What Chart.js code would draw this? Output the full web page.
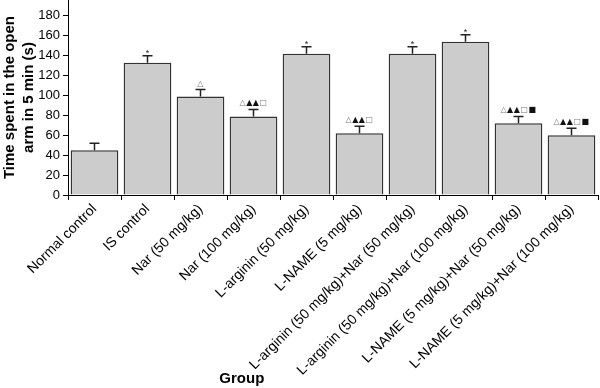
<!DOCTYPE html>
<html>
<head>
<meta charset="utf-8">
<script src="https://cdn.jsdelivr.net/npm/chart.js@4/dist/chart.umd.min.js"></script>
<style>
html,body{margin:0;padding:0;background:#fff;}
canvas{display:block;}
</style>
</head>
<body>
<canvas id="c" width="600" height="388"></canvas>
<script>
const categories = [
  "Normal control",
  "IS control",
  "Nar (50 mg/kg)",
  "Nar (100 mg/kg)",
  "L-arginin (50 mg/kg)",
  "L-NAME (5 mg/kg)",
  "L-arginin (50 mg/kg)+Nar (50 mg/kg)",
  "L-arginin (50 mg/kg)+Nar (100 mg/kg)",
  "L-NAME (5 mg/kg)+Nar (50 mg/kg)",
  "L-NAME (5 mg/kg)+Nar (100 mg/kg)"
];
const means = [45, 133, 99, 79, 142, 62, 142, 154, 72, 60];
const errors = [7, 7, 7, 7, 7, 7, 7, 7, 7, 7];
const marks = ["", "*", "△", "△▲▲□", "*", "△▲▲□", "*", "*", "△▲▲□■", "△▲▲□■"];
const yTickStep = 20;
const yMax = 196;

const overlay = {
  id: 'overlay',
  afterDatasetsDraw(chart) {
    const ctx = chart.ctx;
    const meta = chart.getDatasetMeta(0);
    const ys = chart.scales.y;
    ctx.save();
    meta.data.forEach((bar, i) => {
      const x = bar.x;
      const yb = ys.getPixelForValue(means[i]);
      const yt = ys.getPixelForValue(means[i] + errors[i]);
      ctx.strokeStyle = '#222';
      ctx.lineWidth = 1.5;
      ctx.beginPath();
      ctx.moveTo(x, yb);
      ctx.lineTo(x, yt);
      ctx.moveTo(x - 5, yt);
      ctx.lineTo(x + 5, yt);
      ctx.stroke();
      const m = marks[i];
      if (!m) return;
      if (m === '*') {
        ctx.font = '9px "Liberation Sans", Arial, sans-serif';
        ctx.fillStyle = '#222';
        ctx.textAlign = 'center';
        ctx.textBaseline = 'alphabetic';
        ctx.fillText('*', x, yt);
      } else {
        ctx.font = '8px "DejaVu Sans", sans-serif';
        ctx.textBaseline = 'alphabetic';
        ctx.textAlign = 'left';
        const chars = Array.from(m);
        const w = chars.map(c => ctx.measureText(c).width + 0.5);
        const total = w.reduce((a, b) => a + b, 0);
        let cx = x - total / 2;
        chars.forEach((c, k) => {
          ctx.fillStyle = (c === '△' || c === '□') ? '#777' : '#111';
          ctx.fillText(c, cx, yt - 4);
          cx += w[k];
        });
      }
    });
    const ca = chart.chartArea;
    ctx.font = 'bold 15px "Liberation Sans", Arial, sans-serif';
    ctx.fillStyle = '#000';
    ctx.textAlign = 'center';
    ctx.textBaseline = 'bottom';
    ctx.fillText('Group', ca.left + (ca.right - ca.left) * 0.328, chart.height - 2);
    ctx.restore();
  }
};

new Chart(document.getElementById('c'), {
  type: 'bar',
  data: {
    labels: categories,
    datasets: [{
      data: means,
      backgroundColor: '#cccccc',
      borderColor: '#333333',
      borderWidth: 1.5,
      borderSkipped: 'bottom',
      barPercentage: 0.9,
      categoryPercentage: 1.0
    }]
  },
  options: {
    responsive: false,
    animation: false,
    devicePixelRatio: 1,
    layout: { padding: { top: 0, right: 2, left: 0, bottom: 0 } },
    plugins: { legend: { display: false }, tooltip: { enabled: false } },
    scales: {
      x: {
        afterFit(scale) { scale.paddingLeft = 0; scale.height -= 1; },
        grid: { display: true, drawOnChartArea: false, drawTicks: true, tickLength: 5, color: '#000', offset: true },
        border: { display: true, color: '#000', width: 1 },
        ticks: {
          color: '#000',
          font: { family: '"Liberation Sans", Arial, sans-serif', size: 14 },
          maxRotation: 45, minRotation: 45, autoSkip: false, padding: 1
        },
        title: {
          display: true, text: 'Group', color: 'rgba(0,0,0,0)',
          font: { family: '"Liberation Sans", Arial, sans-serif', size: 15, weight: 'bold' },
          padding: { top: 0, bottom: 0 }
        }
      },
      y: {
        min: 0, max: yMax,
        afterBuildTicks(axis) {
          axis.ticks = axis.ticks.filter(t => t.value % yTickStep === 0);
        },
        afterFit(scale) { scale.paddingTop = 0; scale.paddingBottom = 0; scale.width = 68; },
        grid: { display: true, drawOnChartArea: false, drawTicks: true, tickLength: 5, color: '#000' },
        border: { display: true, color: '#000', width: 1 },
        ticks: {
          stepSize: yTickStep, color: '#000', padding: 3,
          font: { family: '"Liberation Sans", Arial, sans-serif', size: 13 }
        },
        title: {
          display: true,
          text: ['Time spent in the open', 'arm in 5 min (s)'],
          color: '#000',
          font: { family: '"Liberation Sans", Arial, sans-serif', size: 15, weight: 'bold', lineHeight: 1.3 },
          padding: { top: 0, bottom: 2 }
        }
      }
    }
  },
  plugins: [overlay]
});
</script>
</body>
</html>
